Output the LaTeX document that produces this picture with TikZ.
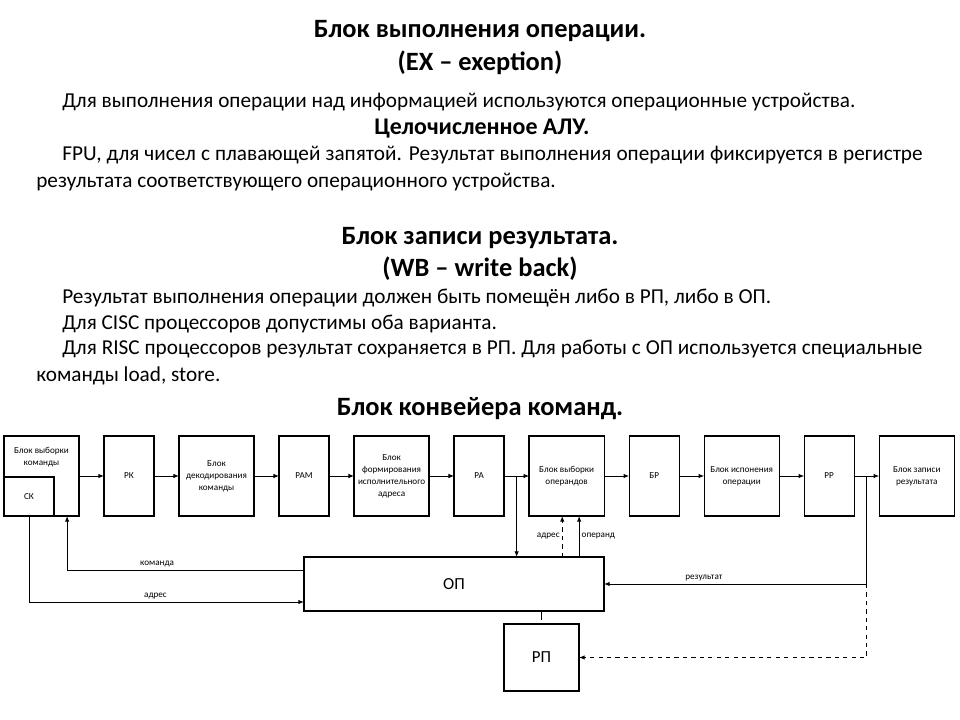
\documentclass[tikz,border=0pt]{standalone}
\usepackage{fontspec}
\setmainfont{Carlito}
\usetikzlibrary{positioning,calc,arrows.meta}

\begin{document}
\begin{tikzpicture}[x=0.025cm,y=-0.025cm,
  head/.style={font=\bfseries\fontsize{18.8}{22}\selectfont},
  body/.style={font=\fontsize{15.1}{19.2}\selectfont, inner sep=0pt},
  blk/.style={draw, line width=0.9pt, minimum width=1.875cm, minimum height=2cm,
    align=center, font=\fontsize{6.5}{8.5}\selectfont, inner sep=0pt, outer sep=0pt},
  reg/.style={blk, minimum width=1.25cm},
  lbl/.style={font=\fontsize{6.5}{8.5}\selectfont, inner sep=1.5pt},
  arr/.style={-{Latex[length=4pt,width=3.2pt]}, line width=0.7pt},
  node distance=0.625cm]
\useasboundingbox (0,0) rectangle (960,720);

% headings and text
\node[head] (h1) at (480,31) {Блок выполнения операции.};
\node[head] (h2) at (480,63) {(EX – exeption)};
\node[body, anchor=west] (t1) at (62,102) {Для выполнения  операции  над информацией  используются операционные  устройства.};
\node[head, font=\bfseries\fontsize{17}{20}\selectfont] (h3) at (482,129) {Целочисленное АЛУ.};
\node[body, anchor=north west, text width=22.15cm, align=justify] (t2) at (36,146)
  {\hspace*{0.65cm}FPU, для чисел с плавающей запятой. Результат выполнения операции фиксируется в регистре результата соответствующего  операционного  устройства.};
\node[head] (h4) at (480,238) {Блок записи результата.};
\node[head] (h5) at (480,269) {(WB – write back)};
\node[body, anchor=west] (t3) at (62,298) {Результат выполнения  операции  должен быть помещён  либо в РП, либо в ОП.};
\node[body, anchor=west] (t4) at (62,324) {Для CISC процессоров  допустимы оба варианта.};
\node[body, anchor=north west, text width=22.15cm, align=justify] (t5) at (36,340)
  {\hspace*{0.65cm}Для RISC процессоров результат сохраняется в РП. Для работы с ОП используется специальные команды load, store.};
\node[head] (h6) at (480,409) {Блок конвейера команд.};

% pipeline
\node[blk] (bvk) at (41.5,476) {};
\node[lbl, align=center] (bvkt) at (41.5,457) {Блок выборки\\команды};
\node[draw, line width=0.9pt, anchor=south west, minimum width=1.25cm, minimum height=0.975cm,
  outer sep=0pt, font=\fontsize{6.5}{8.5}\selectfont] (sk) at (bvk.south west) {СК};
\node[reg, right=of bvk] (rk) {РК};
\node[blk, right=of rk] (bdk) {Блок\\декодирования\\команды};
\node[reg, right=of bdk] (ram) {РАМ};
\node[blk, right=of ram] (bfa) {Блок\\формирования\\исполнительного\\адреса};
\node[reg, right=of bfa] (ra) {РА};
\node[blk, right=of ra] (bvo) {Блок выборки\\операндов};
\node[reg, right=of bvo] (br) {БР};
\node[blk, right=of br] (bio) {Блок испонения\\операции};
\node[reg, right=of bio] (rr) {РР};
\node[blk, right=of rr] (bzr) {Блок записи\\результата};

\node[draw, line width=0.9pt, minimum width=7.5cm, minimum height=1.35cm, outer sep=0pt,
  font=\fontsize{12}{14}\selectfont] (op) at (454,584) {ОП};
\node[draw, line width=0.9pt, minimum width=1.875cm, minimum height=1.675cm, outer sep=0pt,
  font=\fontsize{12}{14}\selectfont] (rp) at (541.5,657.5) {РП};

\draw[arr] (bvk) -- (rk);
\draw[arr] (rk) -- (bdk);
\draw[arr] (bdk) -- (ram);
\draw[arr] (ram) -- (bfa);
\draw[arr] (bfa) -- (ra);
\draw[arr] (ra) -- (bvo);
\draw[arr] (bvo) -- (br);
\draw[arr] (br) -- (bio);
\draw[arr] (bio) -- (rr);
\draw[arr] (rr) -- (bzr);

\coordinate (rabr) at ($(ra.east)!0.5!(bvo.west)$);
\coordinate (rrbr) at ($(rr.east)!0.5!(bzr.west)$);
\coordinate (adr) at ([xshift=-0.11cm]bvo.south);
\coordinate (opd) at ([xshift=0.3125cm]bvo.south);
\coordinate (kmd) at ([xshift=0.64cm]bvk.south);

\draw[arr] (rabr) -- (rabr |- op.north);
\draw[arr, dashed] (adr |- op.north) -- node[lbl, left] {адрес} (adr);
\draw[arr] (opd |- op.north) -- node[lbl, right] {операнд} (opd);
\draw[arr] (rrbr) |- node[lbl, above, pos=0.81] {результат} (op.east);
\draw[arr, dashed] (rrbr |- op.east) |- (rp.east);
\draw[line width=0.7pt] (op.south -| rp.north) -- ([yshift=0.1cm]rp.north);
\draw[arr] (sk.south) |- node[lbl, above, pos=0.73] {адрес} ([yshift=-0.45cm]op.west);
\draw[arr] ([yshift=0.35cm]op.west) -| node[lbl, above, pos=0.31] {команда} (kmd);
\end{tikzpicture}
\end{document}
